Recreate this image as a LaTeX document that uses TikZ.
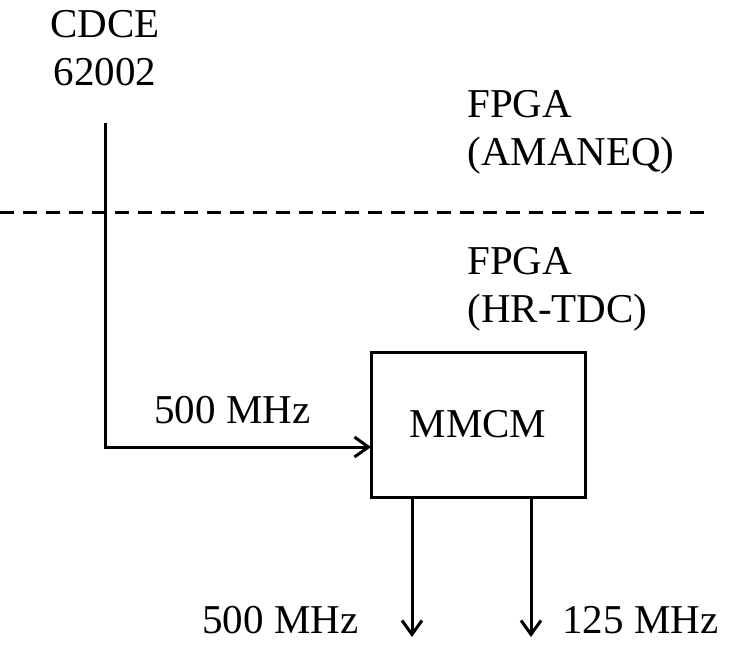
\documentclass[tikz,border=0pt]{standalone}
\usepackage{fontspec}
\setmainfont{Liberation Serif}
\usepackage{tikz}
\usetikzlibrary{arrows.meta}
\usetikzlibrary{positioning}

\begin{document}
\begin{tikzpicture}[
  x=0.5pt, y=-0.5pt,
  every node/.style={
    font=\fontsize{20.5}{24}\selectfont, inner sep=0pt
  },
  blockbox/.style={draw, line width=1.5pt, minimum width=107pt, minimum height=72.5pt},
  clkline/.style={line width=1.5pt, -{Straight Barb[length=7pt,width=10pt]}},
  bordline/.style={line width=1.5pt, dash pattern=on 7pt off 4.5pt}
]
\useasboundingbox (0,0) rectangle (733,644);

% chips and block
\node[align=center, anchor=base] (cdce) at (105,85) {CDCE\\62002};
\node[align=left, anchor=base west] (amaneq) at (467,165) {FPGA\\(AMANEQ)};
\node[align=left, anchor=base west] (hrtdc) at (467,322) {FPGA\\(HR-TDC)};
\node[blockbox] (mmcm) at (478,424.5) {MMCM};

% boundary between the two boards
\coordinate (bordl) at (0,212);
\coordinate (bordr) at (705,212);
\draw[bordline] (bordl) -- (bordr);

% clock path
\coordinate (clkin) at (105,123);
\coordinate (mmcmin) at (371,447);
\draw[clkline] (clkin) |- (mmcmin);
\node[anchor=base west] (fin) at (154,423) {500 MHz};

% outputs
\coordinate (outa) at (412,637);
\coordinate (outb) at (531,637);
\draw[clkline] (mmcm.south -| outa) -- (outa);
\draw[clkline] (mmcm.south -| outb) -- (outb);
\node[anchor=base west] (fouta) at (202,633) {500 MHz};
\node[anchor=base west] (foutb) at (562,633) {125 MHz};

\end{tikzpicture}
\end{document}
